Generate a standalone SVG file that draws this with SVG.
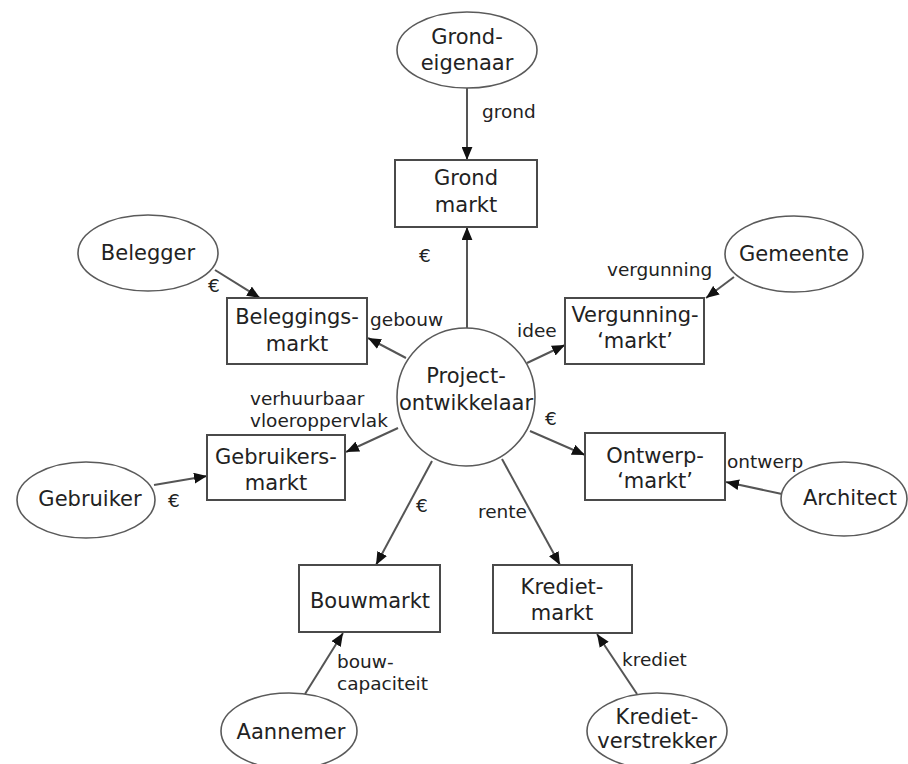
<svg xmlns="http://www.w3.org/2000/svg" width="908" height="764" viewBox="0 0 908 764">
  <style>
    .box { fill: #ffffff; stroke: #4a4a4a; stroke-width: 2; }
    .actor { fill: #ffffff; stroke: #5a5a5a; stroke-width: 1.6; }
    .name { font-family: "DejaVu Sans", Verdana, sans-serif; font-size: 21px; fill: #222222; text-anchor: middle; }
    .lbl { font-family: "DejaVu Sans", Verdana, sans-serif; font-size: 18.5px; fill: #222222; }
    .flow { stroke: #555555; stroke-width: 2; fill: none; marker-end: url(#ah); }
  </style>
  <defs>
    <marker id="ah" viewBox="0 0 12 10" refX="12" refY="5" markerWidth="13" markerHeight="11" orient="auto" markerUnits="userSpaceOnUse">
      <path d="M0,0 L12,5 L0,10 z" fill="#111111"/>
    </marker>
  </defs>
  <rect width="908" height="764" fill="#ffffff"/>

  <!-- flows between actors, markets and the developer -->
  <g id="connectors">
    <line class="flow" x1="467" y1="88" x2="467" y2="160"/>
    <line class="flow" x1="467" y1="328" x2="467" y2="227"/>
    <line class="flow" x1="215" y1="270" x2="260" y2="298"/>
    <line class="flow" x1="406" y1="358" x2="368" y2="338"/>
    <line class="flow" x1="734" y1="277" x2="706" y2="298"/>
    <line class="flow" x1="527" y1="363" x2="565" y2="345"/>
    <line class="flow" x1="530" y1="431" x2="585" y2="455"/>
    <line class="flow" x1="782" y1="494" x2="726" y2="482"/>
    <line class="flow" x1="398" y1="428" x2="346" y2="452"/>
    <line class="flow" x1="154" y1="485" x2="207" y2="476"/>
    <line class="flow" x1="432" y1="461" x2="376" y2="565"/>
    <line class="flow" x1="305" y1="694" x2="343" y2="633"/>
    <line class="flow" x1="502" y1="459" x2="560" y2="565"/>
    <line class="flow" x1="637" y1="694" x2="597" y2="634"/>

    <text class="lbl" x="482" y="118">grond</text>
    <text class="lbl" x="419" y="262">€</text>
    <text class="lbl" x="208" y="292">€</text>
    <text class="lbl" x="370" y="326">gebouw</text>
    <text class="lbl" x="607" y="276">vergunning</text>
    <text class="lbl" x="517" y="337">idee</text>
    <text class="lbl" x="545" y="425">€</text>
    <text class="lbl" x="727" y="468">ontwerp</text>
    <text class="lbl" x="478" y="518">rente</text>
    <text class="lbl" x="250" y="405">verhuurbaar</text>
    <text class="lbl" x="250" y="427">vloeroppervlak</text>
    <text class="lbl" x="168" y="507">€</text>
    <text class="lbl" x="416" y="512">€</text>
    <text class="lbl" x="337" y="668">bouw-</text>
    <text class="lbl" x="337" y="690">capaciteit</text>
    <text class="lbl" x="622" y="666">krediet</text>
  </g>

  <g id="grondeigenaar">
    <ellipse class="actor" cx="467" cy="50" rx="70" ry="38"/>
    <text class="name" x="467" y="44">Grond-</text>
    <text class="name" x="467" y="70">eigenaar</text>
  </g>

  <g id="grondmarkt">
    <rect class="box" x="395" y="160" width="142" height="67"/>
    <text class="name" x="466" y="185">Grond</text>
    <text class="name" x="466" y="212">markt</text>
  </g>

  <g id="projectontwikkelaar">
    <circle class="actor" cx="466" cy="397" r="69"/>
    <text class="name" x="466" y="383">Project-</text>
    <text class="name" x="466" y="410">ontwikkelaar</text>
  </g>

  <g id="belegger">
    <ellipse class="actor" cx="148" cy="253" rx="70" ry="38"/>
    <text class="name" x="148" y="260">Belegger</text>
  </g>

  <g id="beleggingsmarkt">
    <rect class="box" x="227" y="298" width="140" height="66"/>
    <text class="name" x="297" y="324">Beleggings-</text>
    <text class="name" x="297" y="351">markt</text>
  </g>

  <g id="gemeente">
    <ellipse class="actor" cx="794" cy="254" rx="69" ry="38"/>
    <text class="name" x="794" y="261">Gemeente</text>
  </g>

  <g id="vergunningmarkt">
    <rect class="box" x="565" y="298" width="139" height="66"/>
    <text class="name" x="635" y="322">Vergunning-</text>
    <text class="name" x="635" y="348">‘markt’</text>
  </g>

  <g id="ontwerpmarkt">
    <rect class="box" x="585" y="433" width="140" height="67"/>
    <text class="name" x="655" y="463">Ontwerp-</text>
    <text class="name" x="655" y="488">‘markt’</text>
  </g>

  <g id="architect">
    <ellipse class="actor" cx="844" cy="499" rx="63" ry="37"/>
    <text class="name" x="850" y="505">Architect</text>
  </g>

  <g id="gebruiker">
    <ellipse class="actor" cx="86" cy="500" rx="69" ry="38"/>
    <text class="name" x="90" y="506">Gebruiker</text>
  </g>

  <g id="gebruikersmarkt">
    <rect class="box" x="207" y="435" width="138" height="65"/>
    <text class="name" x="276" y="464">Gebruikers-</text>
    <text class="name" x="276" y="490">markt</text>
  </g>

  <g id="bouwmarkt">
    <rect class="box" x="299" y="565" width="141" height="67"/>
    <text class="name" x="370" y="608">Bouwmarkt</text>
  </g>

  <g id="kredietmarkt">
    <rect class="box" x="493" y="565" width="139" height="68"/>
    <text class="name" x="562" y="594">Krediet-</text>
    <text class="name" x="562" y="620">markt</text>
  </g>

  <g id="aannemer">
    <ellipse class="actor" cx="289" cy="731" rx="68" ry="38"/>
    <text class="name" x="291" y="739">Aannemer</text>
  </g>

  <g id="kredietverstrekker">
    <ellipse class="actor" cx="657" cy="731" rx="70" ry="38"/>
    <text class="name" x="657" y="724">Krediet-</text>
    <text class="name" x="657" y="748">verstrekker</text>
  </g>
</svg>
